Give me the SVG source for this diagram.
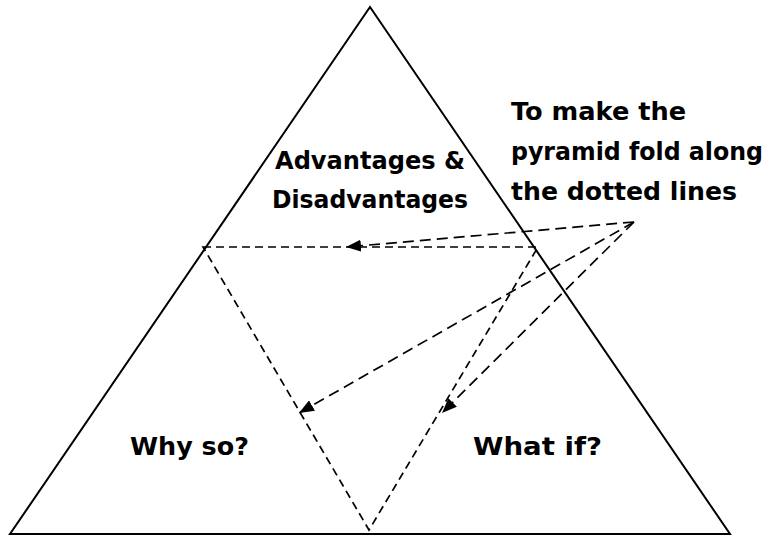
<svg xmlns="http://www.w3.org/2000/svg" width="774" height="536" viewBox="0 0 774 536">
<style>
.solid{fill:none;stroke:#000;stroke-width:2}
.fold{fill:none;stroke:#000;stroke-width:1.7;stroke-dasharray:8 5}
.arrow{fill:none;stroke:#000;stroke-width:1.7;stroke-dasharray:11 6}
.t{font-family:"DejaVu Sans","Liberation Sans",sans-serif;font-weight:bold;font-size:24px;fill:#000}
</style>
<defs>
<marker id="ah" markerUnits="userSpaceOnUse" markerWidth="16" markerHeight="12" refX="15" refY="6" orient="auto">
<path d="M0,0 L15,6 L0,12 z" fill="#000"/>
</marker>
</defs>
<rect width="774" height="536" fill="#fff"/>
<g id="pyramid">
<polygon class="solid" points="370,7 730,534 10,534"/>
</g>
<g id="fold-lines">
<polygon class="fold" points="203,247 538,247 369,530"/>
</g>
<g id="connectors">
<line class="arrow" x1="634" y1="222" x2="346" y2="247" marker-end="url(#ah)"/>
<line class="arrow" x1="634" y1="222" x2="299" y2="413" marker-end="url(#ah)"/>
<line class="arrow" x1="634" y1="222" x2="442" y2="413" marker-end="url(#ah)"/>
</g>
<g id="top-face">
<text class="t" x="275" y="169" textLength="190" lengthAdjust="spacingAndGlyphs">Advantages &amp;</text>
<text class="t" x="272" y="208" textLength="196" lengthAdjust="spacingAndGlyphs">Disadvantages</text>
</g>
<g id="left-face">
<text class="t" x="130" y="455" textLength="119" lengthAdjust="spacingAndGlyphs">Why so?</text>
</g>
<g id="right-face">
<text class="t" x="473" y="455" textLength="129" lengthAdjust="spacingAndGlyphs">What if?</text>
</g>
<g id="note">
<text class="t" x="511" y="120" textLength="175" lengthAdjust="spacingAndGlyphs">To make the</text>
<text class="t" x="511" y="160" textLength="252" lengthAdjust="spacingAndGlyphs">pyramid fold along</text>
<text class="t" x="511" y="200" textLength="226" lengthAdjust="spacingAndGlyphs">the dotted lines</text>
</g>
</svg>
